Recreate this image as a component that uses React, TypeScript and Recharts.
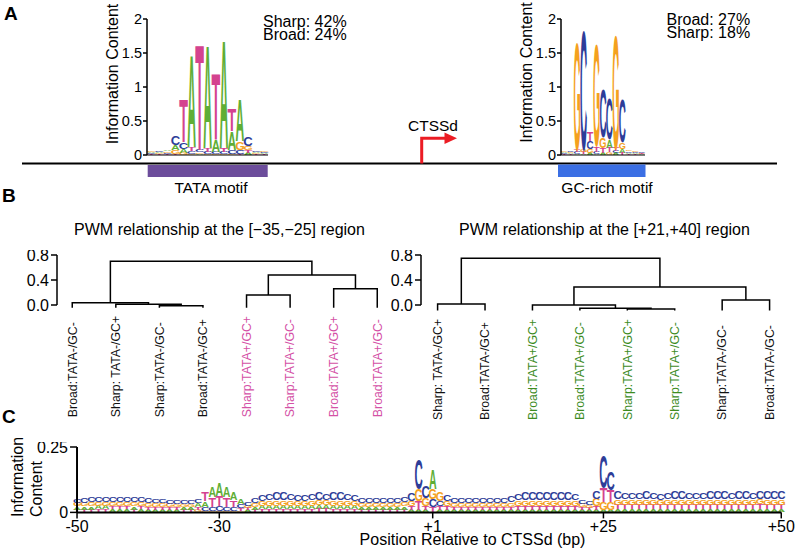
import React from 'react';
import { BarChart, Bar, XAxis, YAxis, ScatterChart, Scatter } from 'recharts';

const FONT = "'Liberation Sans', Arial, Helvetica, sans-serif";

const BASES = ['A', 'C', 'G', 'T'];
const BASE_COLOR: Record<string, string> = { A: '#5fae36', C: '#2e3d98', G: '#f4a11e', T: '#d4438f' };
const GLYPH_W: Record<string, number> = { A: 0.66, C: 0.61, G: 0.65, T: 0.56 };

// A: TATA motif logo, 15 positions
const tataA = [0.02, 0.02, 0.025, 0.07, 0.06, 1.38, 0.02, 1.55, 0.17, 1.63, 0.27, 0.62, 0.03, 0.02, 0.015];
const tataC = [0.015, 0.02, 0.02, 0.13, 0.1, 0.04, 0.03, 0.03, 0.03, 0.03, 0.06, 0.06, 0.14, 0.02, 0.015];
const tataG = [0.02, 0.015, 0.02, 0.05, 0.03, 0.02, 0.02, 0.02, 0.02, 0.02, 0.02, 0.12, 0.06, 0.015, 0.02];
const tataT = [0.01, 0.01, 0.015, 0.02, 0.65, 0.06, 1.58, 0.06, 1.0, 0.05, 0.33, 0.02, 0.04, 0.01, 0.01];

// A: GC-rich motif logo, 13 positions
const gcA = [0.02, 0.015, 0.02, 0.02, 0.03, 0.02, 0.03, 0.12, 0.03, 0.06, 0.02, 0.015, 0.01];
const gcC = [0.015, 0.02, 0.03, 1.78, 0.12, 0.03, 0.73, 0.6, 0.03, 0.64, 0.02, 0.015, 0.015];
const gcG = [0.02, 0.015, 1.6, 0.04, 0.06, 1.52, 0.16, 0.04, 1.7, 0.1, 0.025, 0.02, 0.01];
const gcT = [0.01, 0.01, 0.03, 0.03, 0.13, 0.08, 0.08, 0.07, 0.05, 0.03, 0.015, 0.01, 0.01];

const logoTicks = [0, 0.5, 1, 1.5, 2];

// B: dendrograms (leaf order left to right)
const leftLabels = ['Broad:TATA-/GC-', 'Sharp: TATA-/GC+', 'Sharp:TATA-/GC-', 'Broad:TATA-/GC+',
  'Sharp:TATA+/GC+', 'Sharp:TATA+/GC-', 'Broad:TATA+/GC+', 'Broad:TATA+/GC-'];
const leftColors = ['#111', '#111', '#111', '#111', '#d451a6', '#d451a6', '#d451a6', '#d451a6'];
// merges: leaf numbers 1..8, earlier merges as 'm0', 'm1', ...
const leftMerges = [
  { a: 3, b: 4, h: -0.012 },
  { a: 2, b: 'm0', h: 0.012 },
  { a: 1, b: 'm1', h: 0.035 },
  { a: 5, b: 6, h: 0.16 },
  { a: 7, b: 8, h: 0.26 },
  { a: 'm3', b: 'm4', h: 0.48 },
  { a: 'm2', b: 'm5', h: 0.7 },
];

const rightLabels = ['Sharp: TATA-/GC+', 'Broad:TATA-/GC+', 'Broad:TATA+/GC+', 'Broad:TATA+/GC-',
  'Sharp:TATA+/GC+', 'Sharp:TATA+/GC-', 'Sharp:TATA-/GC-', 'Broad:TATA-/GC-'];
const rightColors = ['#111', '#111', '#3d8c1f', '#3d8c1f', '#3d8c1f', '#3d8c1f', '#111', '#111'];
const rightMerges = [
  { a: 1, b: 2, h: 0.016 },
  { a: 5, b: 6, h: -0.064 },
  { a: 4, b: 'm1', h: -0.053 },
  { a: 3, b: 'm2', h: 0.0 },
  { a: 7, b: 8, h: 0.08 },
  { a: 'm3', b: 'm4', h: 0.29 },
  { a: 'm0', b: 'm5', h: 0.75 },
];

const leafTicks = [1, 2, 3, 4, 5, 6, 7, 8];
const dendroTicks = [0, 0.4, 0.8];

// C: information content per position, -50..-1, +1..+50
const posA = [
  0.012, 0.012, 0.012, 0.013, 0.013, 0.012, 0.012, 0.012, 0.012, 0.012,
  0.011, 0.011, 0.011, 0.010, 0.010, 0.010, 0.010, 0.014, 0.022, 0.040,
  0.052, 0.040, 0.030, 0.020, 0.008, 0.011, 0.013, 0.014, 0.014, 0.014,
  0.014, 0.013, 0.013, 0.014, 0.014, 0.014, 0.014, 0.014, 0.014, 0.013,
  0.011, 0.011, 0.011, 0.011, 0.011, 0.011, 0.012, 0.010, 0.008, 0.010,
  0.075, 0.010, 0.010, 0.010, 0.009, 0.009, 0.009, 0.009, 0.009, 0.009,
  0.010, 0.010, 0.011, 0.011, 0.011, 0.011, 0.011, 0.011, 0.011, 0.011,
  0.011, 0.009, 0.008, 0.010, 0.010, 0.010, 0.012, 0.012, 0.012, 0.012,
  0.012, 0.012, 0.012, 0.012, 0.012, 0.012, 0.012, 0.012, 0.012, 0.012,
  0.012, 0.012, 0.012, 0.012, 0.012, 0.012, 0.012, 0.012, 0.012, 0.012,
];
const posC = [
  0.017, 0.018, 0.019, 0.019, 0.020, 0.020, 0.019, 0.020, 0.019, 0.018,
  0.018, 0.017, 0.017, 0.016, 0.015, 0.015, 0.014, 0.014, 0.014, 0.016,
  0.018, 0.016, 0.014, 0.014, 0.013, 0.019, 0.025, 0.027, 0.028, 0.028,
  0.027, 0.026, 0.025, 0.027, 0.028, 0.027, 0.028, 0.028, 0.027, 0.026,
  0.020, 0.021, 0.020, 0.021, 0.020, 0.021, 0.022, 0.030, 0.115, 0.045,
  0.030, 0.020, 0.027, 0.022, 0.020, 0.019, 0.020, 0.020, 0.019, 0.020,
  0.021, 0.023, 0.027, 0.029, 0.030, 0.030, 0.029, 0.028, 0.029, 0.029,
  0.027, 0.016, 0.015, 0.030, 0.125, 0.072, 0.028, 0.027, 0.027, 0.027,
  0.028, 0.027, 0.027, 0.027, 0.028, 0.029, 0.027, 0.027, 0.027, 0.028,
  0.028, 0.028, 0.027, 0.028, 0.029, 0.027, 0.028, 0.028, 0.028, 0.029,
];
const posG = [
  0.014, 0.014, 0.015, 0.015, 0.015, 0.015, 0.015, 0.014, 0.015, 0.014,
  0.014, 0.014, 0.013, 0.013, 0.012, 0.012, 0.012, 0.010, 0.006, 0.006,
  0.006, 0.006, 0.006, 0.005, 0.010, 0.015, 0.019, 0.020, 0.020, 0.021,
  0.020, 0.020, 0.019, 0.020, 0.020, 0.020, 0.021, 0.020, 0.020, 0.019,
  0.016, 0.016, 0.016, 0.016, 0.015, 0.016, 0.016, 0.020, 0.045, 0.030,
  0.040, 0.035, 0.020, 0.015, 0.014, 0.014, 0.014, 0.015, 0.014, 0.014,
  0.015, 0.016, 0.021, 0.022, 0.022, 0.022, 0.022, 0.021, 0.022, 0.021,
  0.021, 0.013, 0.012, 0.028, 0.030, 0.030, 0.020, 0.020, 0.020, 0.020,
  0.020, 0.020, 0.019, 0.020, 0.020, 0.020, 0.020, 0.020, 0.020, 0.020,
  0.021, 0.020, 0.020, 0.020, 0.020, 0.020, 0.020, 0.020, 0.021, 0.021,
];
const posT = [
  0.011, 0.011, 0.011, 0.012, 0.012, 0.012, 0.012, 0.012, 0.011, 0.012,
  0.011, 0.011, 0.011, 0.010, 0.010, 0.009, 0.009, 0.012, 0.035, 0.035,
  0.040, 0.035, 0.027, 0.012, 0.008, 0.010, 0.012, 0.012, 0.012, 0.012,
  0.012, 0.012, 0.012, 0.012, 0.013, 0.013, 0.012, 0.012, 0.012, 0.012,
  0.010, 0.010, 0.010, 0.010, 0.010, 0.010, 0.011, 0.015, 0.035, 0.015,
  0.020, 0.015, 0.013, 0.012, 0.011, 0.011, 0.011, 0.011, 0.011, 0.011,
  0.011, 0.012, 0.014, 0.015, 0.015, 0.015, 0.015, 0.015, 0.015, 0.015,
  0.014, 0.010, 0.010, 0.015, 0.055, 0.045, 0.018, 0.018, 0.018, 0.018,
  0.018, 0.018, 0.018, 0.018, 0.018, 0.018, 0.018, 0.018, 0.018, 0.018,
  0.018, 0.018, 0.018, 0.018, 0.018, 0.018, 0.019, 0.018, 0.018, 0.018,
];
const posTickIdx = [0, 20, 50, 74, 99];
const posTickText = ['-50', '-30', '+1', '+25', '+50'];

const toLogo = (a: number[], c: number[], g: number[], t: number[], shift: number) =>
  a.map((v, i) => ({ pos: i + shift, A: v, C: c[i], G: g[i], T: t[i], total: v + c[i] + g[i] + t[i] }));

const tataData = toLogo(tataA, tataC, tataG, tataT, 0.5);
const gcData = toLogo(gcA, gcC, gcG, gcT, 0.5);
const posData = toLogo(posA, posC, posG, posT, 0);
const tataEdges = tataA.map((_, i) => i).concat(tataA.length);
const gcEdges = gcA.map((_, i) => i).concat(gcA.length);

function Glyph({ ch, x, y, w, h }: { ch: string; x: number; y: number; w: number; h: number }) {
  if (h < 0.25) return null;
  const fs = 100;
  const sx = w / (GLYPH_W[ch] * fs);
  const sy = h / (0.716 * fs);
  return (
    <text
      x={0} y={0} fontSize={fs} fontWeight={700} fontFamily={FONT} textAnchor="middle"
      fill={BASE_COLOR[ch]}
      transform={`translate(${x + w / 2},${y + h}) scale(${sx},${sy})`}
    >
      {ch}
    </text>
  );
}

// stacks letters inside the bar, smallest at the bottom
function LogoColumn(props: any) {
  const { x, y, width, height, payload } = props;
  if (!height || height <= 0) return <g />;
  const parts = BASES.map(b => ({ b, v: payload[b] as number })).filter(p => p.v > 0).sort((p, q) => p.v - q.v);
  let bottom = y + height;
  return (
    <g>
      {parts.map(p => {
        const h = (height * p.v) / payload.total;
        const top = bottom - h;
        bottom = top;
        return <Glyph key={p.b} ch={p.b} x={x} y={top} w={width} h={h} />;
      })}
    </g>
  );
}

function MotifLogo({ data, edges, left, plotWidth }: { data: any[]; edges: number[]; left: number; plotWidth: number }) {
  return (
    <div style={{ position: 'absolute', left, top: 14 }}>
      <BarChart width={50 + plotWidth + 5} height={149} data={data} margin={{ top: 5, right: 5, bottom: 0, left: 0 }} barCategoryGap="3%">
        <XAxis
          type="number" dataKey="pos" domain={[0, edges.length - 1]} ticks={edges} interval={0}
          tick={false} tickSize={8} height={8}
          axisLine={{ stroke: '#000', strokeWidth: 1 }} tickLine={{ stroke: '#000', strokeWidth: 1 }}
        />
        <YAxis
          domain={[0, 2]} ticks={logoTicks} interval={0} width={50} tickSize={4} tickMargin={1}
          tick={{ fill: '#000', fontSize: 14.5 }}
          axisLine={{ stroke: '#000', strokeWidth: 1.5 }} tickLine={{ stroke: '#000', strokeWidth: 1.5 }}
        />
        <Bar dataKey="total" shape={LogoColumn} isAnimationActive={false} />
      </BarChart>
    </div>
  );
}

type Merge = { a: number | string; b: number | string; h: number };

function dendroLinks(merges: Merge[], leafBase: number) {
  const nodes: Record<string, { x: number; h: number }> = {};
  const get = (n: number | string) => (typeof n === 'number' ? { x: n, h: leafBase } : nodes[n]);
  return merges.map((m, i) => {
    const A = get(m.a);
    const B = get(m.b);
    nodes['m' + i] = { x: (A.x + B.x) / 2, h: m.h };
    return [
      { x: A.x, y: A.h },
      { x: A.x, y: m.h },
      { x: B.x, y: m.h },
      { x: B.x, y: B.h },
    ];
  });
}

function LeafTick(props: any) {
  const { x, y, payload, labels, colors, drop } = props;
  const i = Math.round(payload.value) - 1;
  return (
    <text transform={`translate(${x},${y + drop}) rotate(-90)`} textAnchor="start" dy="0.35em" fontSize={12.3} fill={colors[i]}>
      {labels[i]}
    </text>
  );
}

const noDot = () => <g />;

function Dendrogram(p: {
  left: number; plotWidth: number; yMin: number; merges: Merge[]; leafBase: number;
  labels: string[]; colors: string[]; drop: number;
}) {
  const xDomain = [0.65, 8.35];
  const plotHeight = (0.8 - p.yMin) * 62.5;
  const links = dendroLinks(p.merges, p.leafBase);
  const axis = [{ x: xDomain[0], y: 0 }, { x: xDomain[0], y: 0.8 }];
  return (
    <div style={{ position: 'absolute', left: p.left, top: 250 }}>
      <ScatterChart width={45 + p.plotWidth + 5} height={5 + plotHeight + 120} margin={{ top: 5, right: 5, bottom: 0, left: 0 }}>
        <XAxis
          type="number" dataKey="x" domain={xDomain} ticks={leafTicks} interval={0} height={120}
          axisLine={false} tickLine={false} tickSize={0} tickMargin={0}
          tick={(t: any) => <LeafTick {...t} labels={p.labels} colors={p.colors} drop={p.drop} />}
        />
        <YAxis
          type="number" dataKey="y" domain={[p.yMin, 0.8]} ticks={dendroTicks} interval={0} width={45}
          axisLine={false} tickSize={6} tickMargin={2}
          tickLine={{ stroke: '#000', strokeWidth: 1.5 }}
          tick={{ fill: '#000', fontSize: 16 }}
          tickFormatter={(v: number) => v.toFixed(1)}
        />
        <Scatter data={axis} line={{ stroke: '#000', strokeWidth: 1.5 }} lineType="joint" shape={noDot} isAnimationActive={false} />
        {links.map((pts, i) => (
          <Scatter key={i} data={pts} line={{ stroke: '#000', strokeWidth: 1.5 }} lineType="joint" shape={noDot} isAnimationActive={false} />
        ))}
      </ScatterChart>
    </div>
  );
}

export default function App() {
  const txt = { fontFamily: FONT, fill: '#000' };
  return (
    <div style={{ position: 'absolute', left: 0, top: 0, width: 797, height: 553, background: '#fff', fontFamily: FONT }}>
      <svg width={797} height={553} style={{ position: 'absolute', left: 0, top: 0 }}>
        <g {...txt}>
          <text x={4} y={20} fontSize={19} fontWeight={700}>A</text>
          <text x={2} y={202} fontSize={19} fontWeight={700}>B</text>
          <text x={2} y={423} fontSize={19} fontWeight={700}>C</text>

          <text transform="translate(118,74) rotate(-90)" textAnchor="middle" fontSize={16}>Information Content</text>
          <text transform="translate(531.5,72.5) rotate(-90)" textAnchor="middle" fontSize={16}>Information Content</text>
          <text x={263} y={27} fontSize={16}>Sharp: 42%</text>
          <text x={263} y={39.5} fontSize={16}>Broad: 24%</text>
          <text x={666.5} y={25} fontSize={16}>Broad: 27%</text>
          <text x={666.5} y={37.5} fontSize={16}>Sharp: 18%</text>

          <line x1={22} x2={777} y1={163.5} y2={163.5} stroke="#000" strokeWidth={2} />
          <path d="M421.7 163.5 V138.3 H447" fill="none" stroke="#ec1c24" strokeWidth={3} />
          <polygon points="444.5,132.5 457,138.3 444.5,144" fill="#ec1c24" />
          <text x={408} y={130.5} fontSize={15.5}>CTSSd</text>

          <rect x={147.7} y={165} width={120} height={12} fill="#6c4d9b" />
          <text x={211} y={192.5} fontSize={15.5} textAnchor="middle">TATA motif</text>
          <rect x={558} y={164.5} width={87.5} height={12.5} fill="#3b6fe4" />
          <text x={607} y={192.5} fontSize={15.5} textAnchor="middle">GC-rich motif</text>

          <text x={219.5} y={235} fontSize={16} textAnchor="middle">PWM relationship at the [−35,−25] region</text>
          <text x={604.5} y={235} fontSize={16} textAnchor="middle">PWM relationship at the [+21,+40] region</text>

          <text transform="translate(23.3,517) rotate(-90)" fontSize={16}>Information</text>
          <text transform="translate(41.5,517) rotate(-90)" fontSize={16}>Content</text>
          <text x={472.5} y={545} fontSize={16} textAnchor="middle">Position Relative to CTSSd (bp)</text>
        </g>
      </svg>

      <MotifLogo data={tataData} edges={tataEdges} left={97} plotWidth={121} />
      <MotifLogo data={gcData} edges={gcEdges} left={511} plotWidth={84} />

      <Dendrogram left={12} plotWidth={335.5} yMin={-0.05} merges={leftMerges} leafBase={-0.045}
        labels={leftLabels} colors={leftColors} drop={109} />
      <Dendrogram left={376.4} plotWidth={365.2} yMin={-0.1} merges={rightMerges} leafBase={-0.088}
        labels={rightLabels} colors={rightColors} drop={108.75} />

      <div style={{ position: 'absolute', left: 16.7, top: 442.3 }}>
        <BarChart width={780.3} height={100.4} data={posData} margin={{ top: 5, right: 16, bottom: 0, left: 0 }} barCategoryGap="2%">
          <XAxis
            type="number" dataKey="pos" domain={[0, 99]} ticks={posTickIdx} interval={0} height={30}
            tickSize={6} tickMargin={2}
            tickFormatter={(v: number) => posTickText[posTickIdx.indexOf(v)]}
            tick={{ fill: '#000', fontSize: 16 }}
            axisLine={{ stroke: '#000', strokeWidth: 2 }} tickLine={{ stroke: '#000', strokeWidth: 1.5 }}
          />
          <YAxis
            domain={[0, 0.25]} ticks={[0, 0.25]} interval={0} width={60} tickSize={7} tickMargin={2}
            tick={{ fill: '#000', fontSize: 16 }}
            axisLine={{ stroke: '#000', strokeWidth: 2 }} tickLine={{ stroke: '#000', strokeWidth: 1.5 }}
          />
          <Bar dataKey="total" shape={LogoColumn} isAnimationActive={false} />
        </BarChart>
      </div>
    </div>
  );
}
